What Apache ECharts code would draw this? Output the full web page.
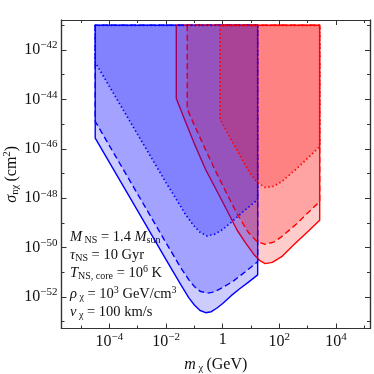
<!DOCTYPE html>
<html>
<head>
<meta charset="utf-8">
<script src="https://cdn.jsdelivr.net/npm/echarts@6/dist/echarts.min.js"></script>
<style>
  html, body { margin: 0; padding: 0; background: #fff; }
  #chart { width: 374px; height: 374px; }
</style>
</head>
<body>
<div id="chart"></div>
<script>
// all values are log10: x = log10(m_chi / GeV), y = log10(sigma / cm^2)
const regionTop = -41;

const blueSolidX = [-4.5, -3.0, -2.0, -1.5, -1.2, -1.0, -0.8, -0.6, -0.4, -0.2, 0.0, 0.3, 0.6, 0.9, 1.235];
const blueSolidY = [-45.57, -48.52, -50.49, -51.46, -52.03, -52.33, -52.55, -52.64, -52.60, -52.45, -52.27, -51.95, -51.67, -51.41, -51.11];

const blueDashX = [-4.5, -3.0, -2.0, -1.5, -1.2, -1.0, -0.8, -0.55, -0.3, 0.0, 0.374, 0.8, 1.235];
const blueDashY = [-44.89, -47.84, -49.81, -50.78, -51.30, -51.58, -51.77, -51.85, -51.80, -51.62, -51.36, -50.98, -50.57];

const blueDotX = [-4.5, -3.5, -2.5, -2.0, -1.6, -1.3, -1.04, -0.8, -0.55, -0.3, 0.0, 0.26, 0.7, 1.235];
const blueDotY = [-42.50, -44.45, -46.40, -47.37, -48.12, -48.68, -49.09, -49.38, -49.53, -49.47, -49.27, -49.02, -48.57, -48.06];

const redSolidX = [-1.638, -1.3, -1.0, -0.6, -0.2, 0.2, 0.5, 0.8, 1.1, 1.3, 1.5, 1.75, 2.083, 2.5, 3.0, 3.424];
const redSolidY = [-43.96, -44.95, -45.80, -46.85, -47.72, -48.60, -49.28, -49.80, -50.28, -50.52, -50.65, -50.60, -50.37, -49.90, -49.36, -48.90];

const redDashX = [-1.253, -1.0, -0.6, -0.272, 0.1, 0.5, 0.9, 1.2, 1.5, 1.8, 2.083, 2.6, 3.0, 3.424];
const redDashY = [-44.39, -45.05, -46.05, -46.86, -47.72, -48.62, -49.38, -49.75, -49.87, -49.78, -49.56, -49.05, -48.60, -48.14];

const redDotX = [-0.095, 0.2, 0.5, 0.904, 1.2, 1.5, 1.8, 2.083, 2.6, 3.0, 3.424];
const redDotY = [-44.81, -45.42, -46.05, -46.88, -47.35, -47.57, -47.52, -47.33, -46.82, -46.38, -45.91];

const xMajor = [-4, -2, 0, 2, 4];
const xMinor = [-5, -3, -1, 1, 3, 5];
const yMajor = [-52, -50, -48, -46, -44, -42];
const yMinor = [-53, -51, -49, -47, -45, -43, -41];

const xRange = [-5.69, 5.2];
const yRange = [-53.28, -40.785];

const serif = 'Liberation Serif';
const frameColor = '#333';

const dotted = [1.4, 2.6];
const dashed = [6, 3.5];

// drawing order matters for how the strokes get tinted
const regions = [
  { x: blueSolidX, y: blueSolidY, rgb: '0,0,255', dash: null },
  { x: redSolidX, y: redSolidY, rgb: '255,0,0', dash: null },
  { x: blueDashX, y: blueDashY, rgb: '0,0,255', dash: dashed },
  { x: redDashX, y: redDashY, rgb: '255,0,0', dash: dashed },
  { x: blueDotX, y: blueDotY, rgb: '0,0,255', dash: dotted },
  { x: redDotX, y: redDotY, rgb: '255,0,0', dash: dotted }
];

const sup = { fontFamily: serif, fontSize: 11, color: '#111', padding: [0, 0, 9, 0] };
const sub = { fontFamily: serif, fontSize: 10.5, color: '#111', padding: [7, 0, 0, 0] };
const base = { fontFamily: serif, fontSize: 16, color: '#111' };
const ital = { fontFamily: serif, fontSize: 16, fontStyle: 'italic', color: '#111' };

function expLabel(v) {
  if (v === 0) return '{b|1}';
  return '{b|10}{sup|' + String(v).replace('-', '\u2212') + '}';
}

function axis(pos, range, ticks, len, labels, extra) {
  return Object.assign({
    type: 'value',
    position: pos,
    min: range[0],
    max: range[1],
    splitLine: { show: false },
    axisLine: { show: true, onZero: false, lineStyle: { color: frameColor, width: 1.2 } },
    axisTick: { show: true, inside: true, length: len, customValues: ticks, lineStyle: { color: frameColor, width: 1 } },
    axisLabel: labels ? {
      customValues: ticks,
      formatter: expLabel,
      rich: { b: base, sup: sup }
    } : { show: false }
  }, extra || {});
}

function regionSeries(r) {
  return {
    type: 'custom',
    coordinateSystem: 'cartesian2d',
    xAxisIndex: 0,
    yAxisIndex: 0,
    silent: true,
    data: [[r.x[0], regionTop]],
    renderItem: function (params, api) {
      const pts = [api.coord([r.x[0], regionTop])];
      for (let i = 0; i < r.x.length; i++) {
        pts.push(api.coord([r.x[i], r.y[i]]));
      }
      pts.push(api.coord([r.x[r.x.length - 1], regionTop]));
      return {
        type: 'polygon',
        shape: { points: pts },
        style: {
          fill: 'rgba(' + r.rgb + ',0.2)',
          stroke: 'rgb(' + r.rgb + ')',
          lineWidth: r.dash === dotted ? 1.7 : 1.4,
          lineDash: r.dash,
          lineJoin: 'round'
        }
      };
    }
  };
}

const infoLines = [
  { y: 237, text: '{i|M}{s| NS} = 1.4 {i|M}{s|sun}' },
  { y: 255.5, text: '{i|\u03c4}{s|NS} = 10 Gyr' },
  { y: 273.5, text: '{i|T}{s|NS, core} = 10{p|6} K' },
  { y: 294, text: '{i|\u03c1}{s| \u03c7} = 10{p|3} GeV/cm{p|3}' },
  { y: 312.5, text: '{i|v}{s| \u03c7} = 100 km/s' }
];

const chart = echarts.init(document.getElementById('chart'));

chart.setOption({
  animation: false,
  backgroundColor: '#fff',
  grid: { left: 61.5, right: 4, top: 20, bottom: 45.5, containLabel: false, outerBoundsMode: 'none' },
  xAxis: [
    axis('bottom', xRange, xMajor, 5, true, {
      axisLabel: {
        customValues: xMajor, formatter: expLabel, margin: 3,
        rich: { b: base, sup: sup }
      },
      name: '{i|m}{s| \u03c7} {b|(GeV)}',
      nameLocation: 'middle',
      nameGap: 27,
      nameMoveOverlap: false,
      nameTextStyle: { rich: { i: ital, s: sub, b: base } }
    }),
    axis('bottom', xRange, xMinor, 3, false),
    axis('top', xRange, xMajor, 5, false),
    axis('top', xRange, xMinor, 3, false)
  ],
  yAxis: [
    axis('left', yRange, yMajor, 5, true, {
      axisLabel: {
        customValues: yMajor, formatter: expLabel, margin: 4,
        rich: { b: base, sup: sup }
      },
      name: '{i|\u03c3}{s|n\u03c7} {b|(cm}{p|2}{b|)}',
      nameLocation: 'middle',
      nameRotate: 90,
      nameGap: 40,
      nameMoveOverlap: false,
      nameTextStyle: { rich: { i: ital, s: sub, b: base, p: sup } }
    }),
    axis('left', yRange, yMinor, 3, false),
    axis('right', yRange, yMajor, 5, false),
    axis('right', yRange, yMinor, 3, false)
  ],
  series: regions.map(regionSeries),
  graphic: infoLines.map(function (l) {
    return {
      type: 'text',
      x: 70,
      y: l.y,
      silent: true,
      style: {
        text: l.text,
        verticalAlign: 'middle',
        fill: '#111',
        font: '14.5px ' + serif,
        rich: {
          i: { fontFamily: serif, fontSize: 14.5, fontStyle: 'italic', fill: '#111' },
          s: { fontFamily: serif, fontSize: 10, fill: '#111', padding: [6, 0, 0, 0] },
          p: { fontFamily: serif, fontSize: 10, fill: '#111', padding: [0, 0, 8, 0] }
        }
      }
    };
  })
});

window.addEventListener('resize', function () {
  chart.resize();
});
</script>
</body>
</html>
